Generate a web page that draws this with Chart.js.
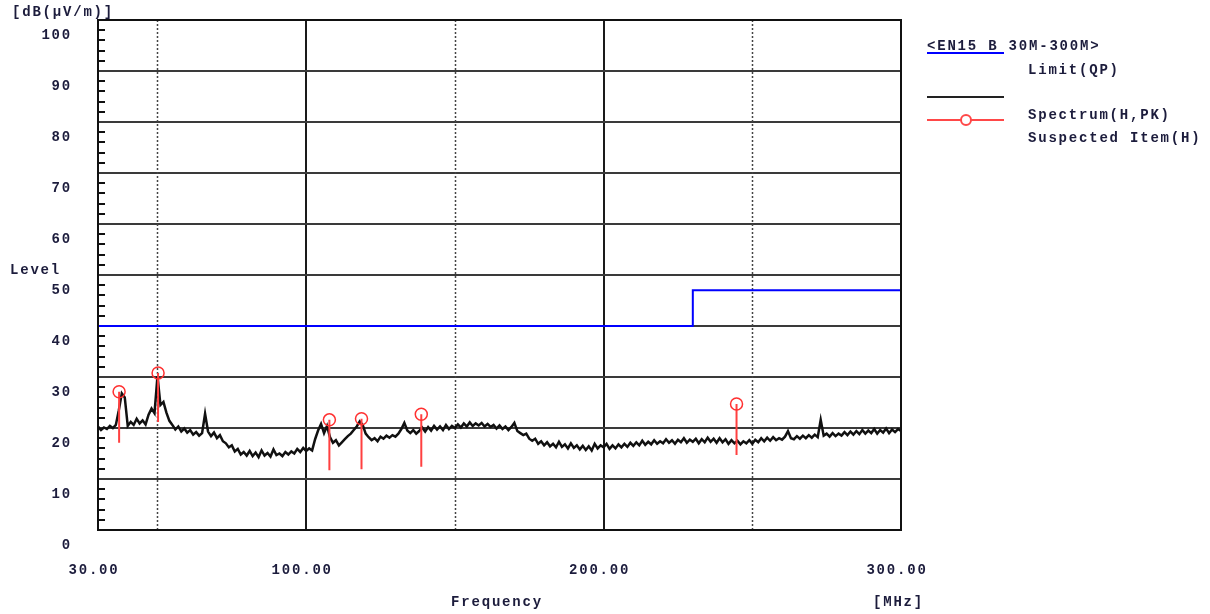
<!DOCTYPE html>
<html>
<head>
<meta charset="utf-8">
<script src="https://cdn.jsdelivr.net/npm/chart.js@4.4.0/dist/chart.umd.min.js"></script>
<style>
html, body { margin: 0; padding: 0; background: #fff; }
#wrap { width: 1210px; height: 614px; position: relative; }
</style>
</head>
<body>
<div id="wrap"><canvas id="emiChart"></canvas></div>
<script>
// sweep: one reading per MHz from 30 MHz up to 300 MHz
const freqStart = 30;
const freqStep = 1;
const spectrumLevels = [
    20.3, 19.6, 20.1, 19.8, 20.4, 20.0, 20.6, 23.5, 26.8, 26.0,   // 30-39
    20.4, 21.2, 20.6, 21.8, 20.9, 21.5, 20.7, 22.6, 23.8, 22.9,   // 40-49
    30.2, 24.5, 25.1, 23.0, 21.4, 20.6, 19.7, 20.3, 19.3, 19.9,   // 50-59
    19.1, 19.6, 18.7, 19.2, 18.5, 19.0, 22.8, 19.3, 18.4, 19.1,   // 60-69
    18.0, 18.6, 17.4, 17.0, 16.2, 16.6, 15.4, 15.9, 14.8, 15.3,   // 70-79
    14.6, 15.5, 14.5, 15.2, 14.3, 15.6, 14.6, 15.1, 14.4, 15.8,   // 80-89
    14.7, 15.0, 14.5, 15.3, 14.8, 15.4, 15.0, 15.9, 15.3, 16.1,   // 90-99
    15.5, 16.0, 15.6, 17.8, 19.5, 20.8, 19.0, 20.4, 18.2, 17.1,   // 100-109
    17.6, 16.6, 17.2, 17.8, 18.4, 18.9, 19.6, 20.3, 21.3, 20.6,   // 110-119
    18.9, 18.2, 17.6, 18.0, 17.4, 18.3, 17.9, 18.5, 18.1, 18.6,   // 120-129
    18.3, 18.9, 19.8, 21.0, 19.5, 19.0, 19.6, 18.9, 19.4, 20.1,   // 130-139
    19.3, 20.2, 19.5, 20.4, 19.7, 20.3, 19.6, 20.6, 19.8, 20.4,   // 140-149
    20.0, 20.7, 20.1, 20.9, 20.3, 21.1, 20.4, 20.9, 20.5, 21.0,   // 150-159
    20.3, 20.8, 20.2, 20.6, 19.9, 20.5, 19.8, 20.3, 19.6, 20.2,   // 160-169
    21.0, 19.4, 19.0, 18.6, 18.9, 17.9, 17.5, 17.9, 16.9, 17.4,   // 170-179
    16.6, 17.2, 16.4, 16.9, 16.2, 17.3, 16.3, 16.8, 16.0, 17.0,   // 180-189
    16.1, 16.6, 15.8, 16.5, 15.7, 16.4, 15.6, 16.9, 16.0, 16.6,   // 190-199
    16.2, 16.9, 15.9, 16.6, 16.0, 16.8, 16.2, 16.9, 16.3, 17.1,   // 200-209
    16.5, 17.2, 16.6, 17.5, 16.7, 17.3, 16.8, 17.6, 16.9, 17.4,   // 210-219
    17.0, 17.8, 17.1, 17.6, 16.9, 17.7, 17.2, 18.0, 17.1, 17.7,   // 220-229
    17.3, 17.9, 17.0, 17.8, 17.2, 18.1, 17.3, 17.9, 17.1, 18.0,   // 230-239
    17.2, 17.8, 16.9, 17.6, 17.0, 17.5, 16.8, 17.4, 17.0, 17.6,   // 240-249
    16.9, 17.7, 17.2, 18.0, 17.4, 18.1, 17.5, 18.2, 17.6, 18.0,   // 250-259
    17.7, 18.3, 19.4, 18.0, 17.8, 18.4, 17.9, 18.5, 18.0, 18.6,   // 260-269
    18.1, 18.7, 18.2, 21.6, 18.5, 18.9, 18.3, 19.0, 18.4, 18.9,   // 270-279
    18.5, 19.2, 18.6, 19.3, 18.7, 19.4, 18.8, 19.6, 18.9, 19.5,   // 280-289
    19.0, 19.8, 18.9, 19.6, 19.1, 19.9, 19.0, 19.7, 19.2, 19.8,   // 290-299
    19.4                                                          // 300
];

// EN55022 class B quasi-peak limit
const limitFreqs = [30, 230, 230, 300];
const limitLevels = [40, 40, 47, 47];

// suspected items: marker level and lower end of the red bar
const suspectFreqs = [37.1, 50.2, 107.8, 118.6, 138.7, 244.7];
const suspectLevels = [27.1, 30.8, 21.6, 21.8, 22.7, 24.7];
const suspectBases = [17.1, 21.2, 11.7, 11.9, 12.4, 14.7];

const xTickValues = [30, 50, 100, 150, 200, 250, 300];
const xLabelledTicks = [30, 100, 200, 300];
const xSolidGrid = [100, 200];
const xDottedGrid = [50, 150, 250];

const textColor = "#1c1c3c";
const monoFont = "bold 14px 'Liberation Mono'";

Chart.defaults.font.family = "'Liberation Mono', monospace";
Chart.defaults.font.size = 14;
Chart.defaults.font.weight = "bold";
Chart.defaults.color = textColor;

const spectrumPoints = spectrumLevels.map((v, i) => ({x: freqStart + i * freqStep, y: v}));
const limitPoints = limitFreqs.map((f, i) => ({x: f, y: limitLevels[i]}));
const suspectPoints = suspectFreqs.map((f, i) => ({x: f, y: suspectLevels[i]}));
const suspectBars = [];
suspectFreqs.forEach((f, i) => {
    suspectBars.push({x: f, y: suspectLevels[i]});
    suspectBars.push({x: f, y: suspectBases[i]});
    suspectBars.push({x: f, y: null});
});

function putText(ctx, s, x, y, align) {
    ctx.textAlign = align || "left";
    ctx.textBaseline = "middle";
    ctx.fillText(s, x, y);
}

const decor = {
    id: "decor",
    beforeDraw(chart) {
        chart.ctx.letterSpacing = "1.8px";
    },
    beforeDatasetsDraw(chart) {
        const ctx = chart.ctx;
        const xs = chart.scales.x;
        const area = chart.chartArea;
        ctx.save();
        ctx.strokeStyle = "#444";
        ctx.lineWidth = 1.5;
        ctx.setLineDash([2, 2]);
        xDottedGrid.forEach(f => {
            const px = Math.round(xs.getPixelForValue(f)) + 0.5;
            ctx.beginPath();
            ctx.moveTo(px, area.top);
            ctx.lineTo(px, area.bottom);
            ctx.stroke();
        });
        ctx.restore();
    },
    afterDraw(chart) {
        const ctx = chart.ctx;
        const ys = chart.scales.y;
        const area = chart.chartArea;
        ctx.save();
        // frame
        ctx.strokeStyle = "#111";
        ctx.lineWidth = 2;
        ctx.strokeRect(area.left, area.top, area.right - area.left, area.bottom - area.top);
        // minor ticks on the level axis
        for (let v = 2; v < 100; v += 2) {
            if (v % 10 === 0) continue;
            const py = Math.round(ys.getPixelForValue(v));
            ctx.beginPath();
            ctx.moveTo(area.left, py);
            ctx.lineTo(area.left + 7, py);
            ctx.stroke();
        }
        // axis titles
        ctx.fillStyle = textColor;
        ctx.font = monoFont;
        putText(ctx, "[dB(\u03bcV/m)]", 12, 12);
        putText(ctx, "Level", 10, 270);
        putText(ctx, "Frequency", 497, 602, "center");
        putText(ctx, "[MHz]", 873, 602);
        // legend
        ctx.lineWidth = 2;
        ctx.strokeStyle = "#0000ff";
        ctx.beginPath(); ctx.moveTo(927, 53); ctx.lineTo(1004, 53); ctx.stroke();
        putText(ctx, "<EN15 B 30M-300M>", 927, 46);
        putText(ctx, "Limit(QP)", 1028, 70);
        ctx.strokeStyle = "#222";
        ctx.beginPath(); ctx.moveTo(927, 97); ctx.lineTo(1004, 97); ctx.stroke();
        putText(ctx, "Spectrum(H,PK)", 1028, 115);
        ctx.strokeStyle = "#ff4848";
        ctx.beginPath(); ctx.moveTo(927, 120); ctx.lineTo(1004, 120); ctx.stroke();
        ctx.fillStyle = "#fff";
        ctx.beginPath(); ctx.arc(966, 120, 5, 0, Math.PI * 2); ctx.fill(); ctx.stroke();
        ctx.fillStyle = textColor;
        putText(ctx, "Suspected Item(H)", 1028, 138);
        ctx.restore();
    }
};

new Chart(document.getElementById("emiChart"), {
    type: "line",
    data: {
        datasets: [
            {
                label: "Suspected Item(H)",
                data: suspectPoints,
                showLine: false,
                pointStyle: "circle",
                pointRadius: 6,
                pointBorderWidth: 1.5,
                pointBorderColor: "#ff3030",
                pointBackgroundColor: "rgba(255,255,255,0)",
                order: 0
            },
            {
                label: "suspect bars",
                data: suspectBars,
                borderColor: "#ff4040",
                borderWidth: 2,
                pointRadius: 0,
                spanGaps: false,
                order: 1
            },
            {
                label: "Spectrum(H,PK)",
                data: spectrumPoints,
                borderColor: "#111",
                borderWidth: 2.5,
                pointRadius: 0,
                tension: 0,
                order: 2
            },
            {
                label: "Limit(QP)",
                data: limitPoints,
                borderColor: "#0000ff",
                borderWidth: 2,
                pointRadius: 0,
                order: 3
            }
        ]
    },
    options: {
        responsive: true,
        maintainAspectRatio: false,
        animation: false,
        events: [],
        layout: {padding: {top: 20, right: 309, left: 0, bottom: 0}},
        plugins: {legend: {display: false}, tooltip: {enabled: false}},
        scales: {
            x: {
                type: "linear",
                min: 30,
                max: 300,
                afterFit(scale) {
                    scale.height = 84;
                    scale.paddingLeft = 0;
                    scale.paddingRight = 0;
                },
                afterBuildTicks(scale) { scale.ticks = xTickValues.map(v => ({value: v})); },
                grid: {
                    drawTicks: false,
                    lineWidth: 2,
                    color: ctx => xSolidGrid.includes(ctx.tick && ctx.tick.value) ? "#1a1a1a" : "rgba(0,0,0,0)"
                },
                border: {display: false},
                ticks: {
                    padding: 32,
                    labelOffset: -4,
                    maxRotation: 0,
                    autoSkip: false,
                    color: textColor,
                    callback: v => xLabelledTicks.includes(v) ? v.toFixed(2) : ""
                }
            },
            y: {
                min: 0,
                max: 100,
                afterFit(scale) {
                    scale.width = 98;
                    scale.paddingTop = 0;
                    scale.paddingBottom = 0;
                },
                grid: {
                    drawTicks: false,
                    lineWidth: 2,
                    color: "#3a3a3a"
                },
                border: {display: false},
                ticks: {
                    stepSize: 10,
                    padding: 26,
                    labelOffset: 15,
                    color: textColor
                }
            }
        }
    },
    plugins: [decor]
});
</script>
</body>
</html>
